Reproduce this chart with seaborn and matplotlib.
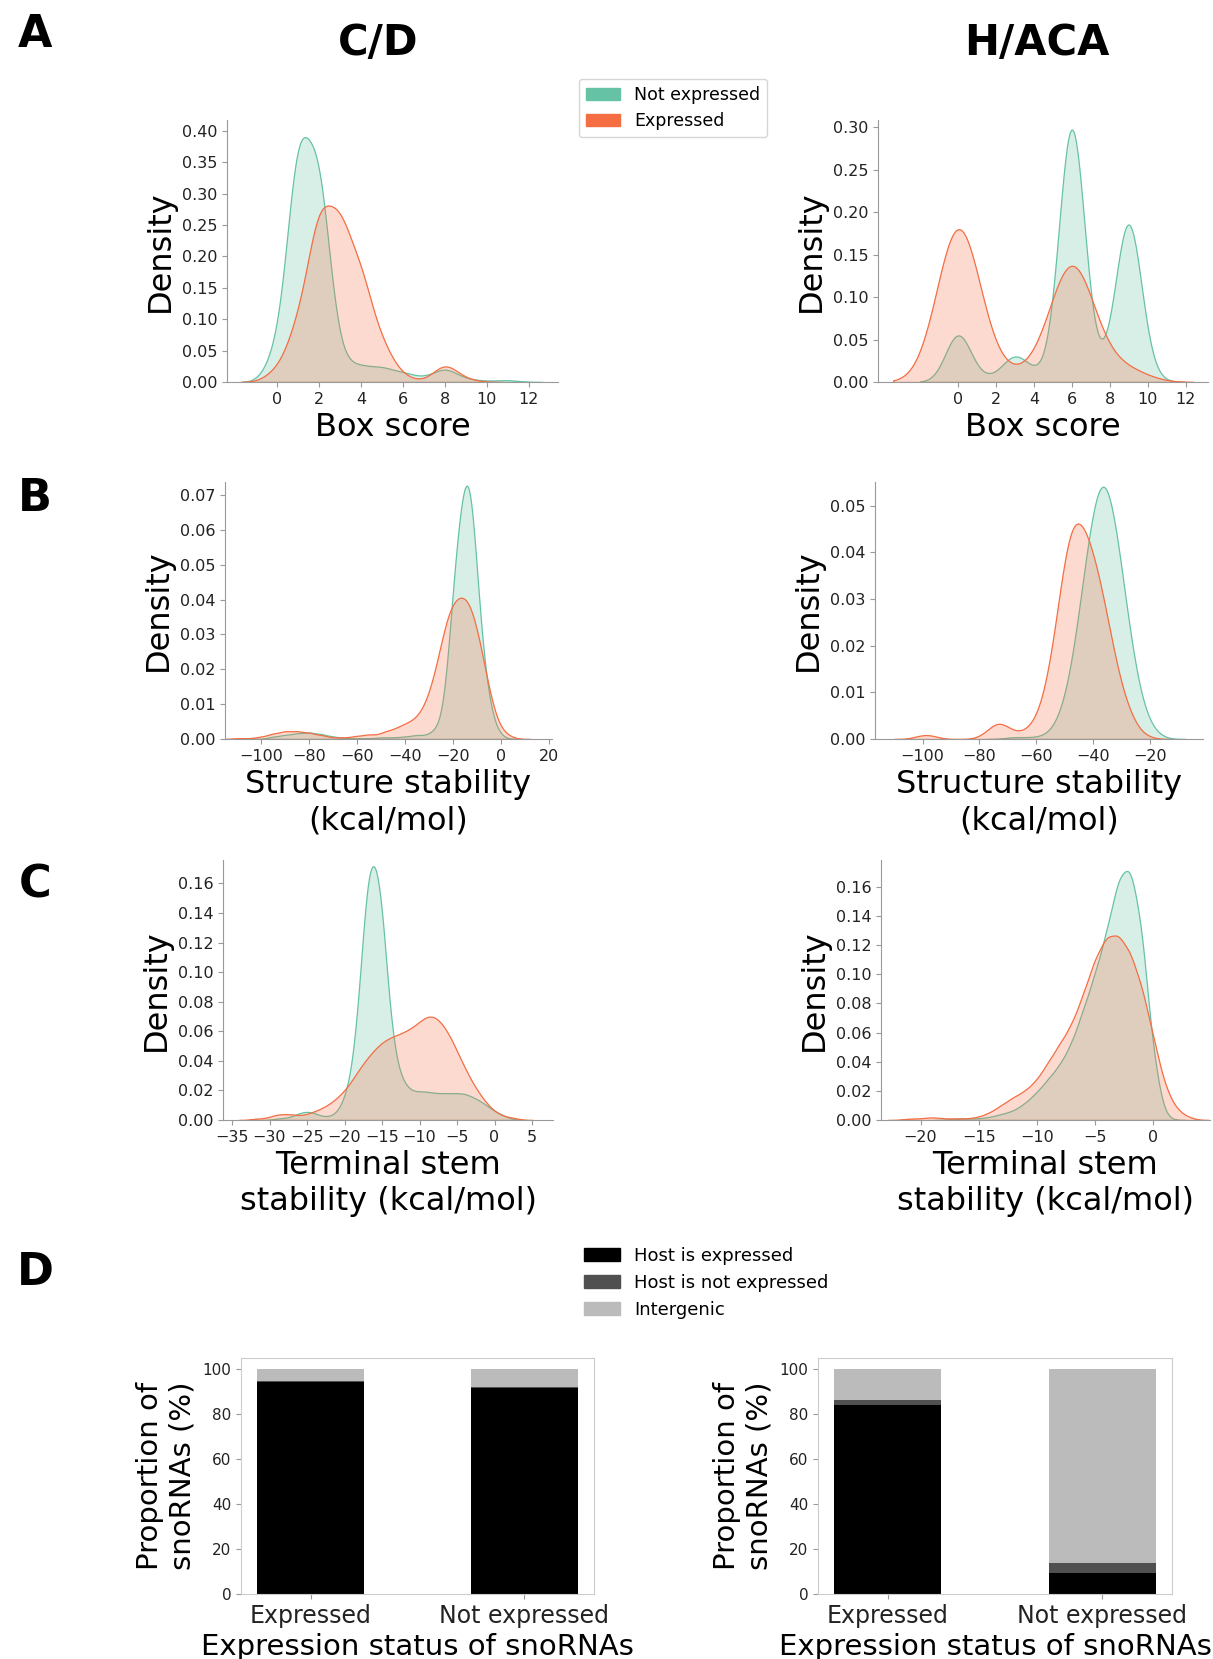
import numpy as np
import seaborn as sns
import matplotlib.pyplot as plt
from matplotlib.patches import Patch
from matplotlib.ticker import MultipleLocator, FormatStrFormatter

TEAL = '#66c2a5'
ORANGE = '#f46d43'
SPINE = '#999999'

# ---------------- A: box score (integer score -> number of snoRNAs) ----------------
box_scores = [0, 1, 2, 3, 4, 5, 6, 7, 8, 9, 10, 11]
cd_box_not = [30, 240, 215, 20, 15, 14, 9, 4, 14, 3, 1, 2]
cd_box_expr = [4, 20, 60, 56, 38, 13, 2, 0, 7, 1, 0, 0]
haca_box_not = [18, 1, 1, 9, 2, 2, 98, 2, 4, 60, 2, 0]
haca_box_expr = [96, 4, 2, 2, 2, 6, 66, 6, 3, 6, 0, 0]

# ---------------- B: structure stability (kcal/mol), binned counts ----------------
cd_struct_not_vals = [-95, -90, -85, -80, -75, -70, -65, -60, -55, -50, -45, -40, -35,
                      -30, -27.5, -25, -22.5, -20, -17.5, -15, -12.5, -10, -7.5, -5, -2.5, 0]
cd_struct_not = [3, 5, 7, 8, 6, 3, 1, 1, 1, 2, 2, 3, 5,
                 4, 5, 8, 28, 100, 130, 165, 175, 95, 50, 22, 7, 2]
cd_struct_expr_vals = [-110, -105, -100, -95, -90, -85, -80, -75, -70, -65, -60, -55,
                       -50, -47.5, -45, -42.5, -40, -37.5, -35, -32.5, -30, -27.5, -25, -22.5,
                       -20, -17.5, -15, -12.5, -10, -7.5, -5, -2.5, 0, 2.5, 5]
cd_struct_expr = [1, 1, 3, 7, 10, 10, 8, 5, 2, 2, 4, 6,
                  5, 5, 6, 8, 10, 11, 14, 19, 28, 42, 60, 78,
                  88, 90, 92, 85, 72, 52, 32, 15, 6, 3, 1]

haca_struct_not_vals = [-70, -67.5, -65, -62.5, -60, -57.5, -55, -52.5, -50, -47.5, -45, -42.5,
                        -40, -37.5, -35, -32.5, -30, -27.5, -25, -22.5, -20, -17.5, -15]
haca_struct_not = [1, 1, 1, 1, 1, 2, 4, 10, 21, 39, 66, 96,
                   123, 139, 137, 118, 90, 60, 35, 18, 8, 3, 1]
haca_struct_expr_vals = [-102.5, -100, -97.5, -95, -80, -77.5, -75, -72.5, -70, -67.5, -65,
                         -62.5, -60, -57.5, -55, -52.5, -50, -47.5, -45, -42.5, -40, -37.5,
                         -35, -32.5, -30, -27.5, -25, -22.5, -20]
haca_struct_expr = [1, 2, 2, 1, 1, 3, 7, 8, 5, 3, 3,
                    5, 9, 18, 33, 55, 80, 95, 95, 90, 80, 68,
                    52, 36, 22, 13, 6, 2, 1]

# ---------------- C: terminal stem stability (kcal/mol), binned counts ----------------
cd_stem_not_vals = list(range(-29, 3))
cd_stem_not = [1, 1, 2, 4, 5, 4, 2, 2, 4, 12, 28, 72, 140, 150, 125, 60,
               30, 20, 16, 16, 16, 15, 15, 15, 15, 15, 13, 11, 8, 5, 3, 1]
cd_stem_expr_vals = list(range(-33, 4))
cd_stem_expr = [0, 1, 1, 2, 4, 4, 4, 3, 4, 6, 8, 11, 15, 20, 27, 35, 42, 48, 53,
                56, 58, 60, 63, 67, 71, 71, 66, 58, 47, 36, 26, 18, 11, 6, 3, 2, 1]

haca_stem_not_vals = list(range(-17, 2))
haca_stem_not = [1, 1, 1, 2, 4, 6, 11, 18, 27, 36, 50, 72, 95, 122, 158, 168, 130, 42, 2]
haca_stem_expr_vals = list(range(-21, 4))
haca_stem_expr = [1, 1, 2, 1, 1, 1, 2, 5, 10, 15, 19, 26, 38, 50, 62, 82, 105, 120,
                  121, 110, 88, 55, 22, 7, 2]

# kernel bandwidths (not expressed, expressed)
bw_cd_box, bw_haca_box = (0.55, 0.58), (0.67, 1.14)
bw_struct, bw_cd_stem, bw_haca_stem = (2.5, 2.5), (0.7, 0.7), (0.6, 0.6)

# ---------------- D: host gene status (%) ----------------
status = ['Expressed', 'Not expressed']
host_labels = ['Host is expressed', 'Host is not expressed', 'Intergenic']
host_colors = ['#000000', '#505050', '#bbbbbb']
cd_host_expr = [94.3, 91.7]
cd_host_not = [0.3, 0.2]
cd_intergenic = [5.4, 8.1]
haca_host_expr = [84.3, 9.3]
haca_host_not = [1.8, 4.5]
haca_intergenic = [13.9, 86.2]

W, H = 1213, 1659
fig = plt.figure(figsize=(W / 100, H / 100), dpi=100)


def box(x0, y0, x1, y1):
    return [x0 / W, 1 - y1 / H, (x1 - x0) / W, (y1 - y0) / H]


def kde_panel(rect, series, bws, xlabel, xlim, ylim, ystep, xticks=None):
    ax = fig.add_axes(rect)
    for (vals, cnts), bw, color in zip(series, bws, [TEAL, ORANGE]):
        obs = np.repeat(np.array(vals, dtype=float), cnts)
        sns.kdeplot(x=obs, ax=ax, fill=True, color=color, alpha=0.25, linewidth=0.9,
                    bw_method=bw / obs.std(ddof=1), gridsize=400)
    ax.set_xlim(xlim[0], xlim[1])
    ax.set_ylim(*ylim)
    if xticks is not None:
        ax.set_xticks(xticks)
    else:
        ax.xaxis.set_major_locator(MultipleLocator(xlim[2]))
    ax.yaxis.set_major_locator(MultipleLocator(ystep))
    ax.yaxis.set_major_formatter(FormatStrFormatter('%.2f'))
    ax.set_ylabel('Density', fontsize=23)
    ax.set_xlabel(xlabel, fontsize=23)
    ax.tick_params(labelsize=11.5, color=SPINE, labelcolor='#222222')
    sns.despine(ax=ax)
    for s in ['left', 'bottom']:
        ax.spines[s].set_color(SPINE)
    return ax


# row A
kde_panel(box(227, 120, 558, 382), [(box_scores, cd_box_not), (box_scores, cd_box_expr)],
          bw_cd_box, 'Box score', (-2.38, 13.39), (0, 0.417), 0.05, list(range(0, 13, 2)))
kde_panel(box(878, 120, 1208, 382), [(box_scores, haca_box_not), (box_scores, haca_box_expr)],
          bw_haca_box, 'Box score', (-4.22, 13.18), (0, 0.3086), 0.05, list(range(0, 13, 2)))
# row B
kde_panel(box(225, 482, 552, 739),
          [(cd_struct_not_vals, cd_struct_not), (cd_struct_expr_vals, cd_struct_expr)],
          bw_struct, 'Structure stability\n(kcal/mol)', (-115.2, 21.4, 20), (0, 0.0737), 0.01)
kde_panel(box(875, 482, 1203, 739),
          [(haca_struct_not_vals, haca_struct_not), (haca_struct_expr_vals, haca_struct_expr)],
          bw_struct, 'Structure stability\n(kcal/mol)', (-116.7, -1.4, 20), (0, 0.0551), 0.01)
# row C
kde_panel(box(223, 860, 553, 1120),
          [(cd_stem_not_vals, cd_stem_not), (cd_stem_expr_vals, cd_stem_expr)],
          bw_cd_stem, 'Terminal stem\nstability (kcal/mol)', (-36.2, 7.8, 5), (0, 0.1758), 0.02)
kde_panel(box(881, 860, 1210, 1120),
          [(haca_stem_not_vals, haca_stem_not), (haca_stem_expr_vals, haca_stem_expr)],
          bw_haca_stem, 'Terminal stem\nstability (kcal/mol)', (-23.4, 4.9, 5), (0, 0.1783), 0.02)


# row D: stacked bars drawn from the top down
def bar_panel(rect, host_expr, host_not, intergenic):
    ax = fig.add_axes(rect)
    layers = [np.add(np.add(host_expr, host_not), intergenic),
              np.add(host_expr, host_not),
              np.array(host_expr)]
    for heights, color in zip(layers, host_colors[::-1]):
        sns.barplot(x=status, y=heights, color=color, width=0.5, saturation=1,
                    linewidth=0, ax=ax)
    ax.set_xlim(-0.325, 1.325)
    ax.set_ylim(0, 105)
    ax.yaxis.set_major_locator(MultipleLocator(20))
    ax.set_xlabel('Expression status of snoRNAs', fontsize=21)
    ax.set_ylabel('Proportion of\nsnoRNAs (%)', fontsize=21)
    ax.tick_params(axis='x', labelsize=17)
    ax.tick_params(axis='y', labelsize=11)
    ax.tick_params(color=SPINE, labelcolor='#222222')
    for s in ax.spines.values():
        s.set_color('#cccccc')
    return ax


bar_panel(box(241, 1358, 594, 1594), cd_host_expr, cd_host_not, cd_intergenic)
bar_panel(box(818, 1358, 1172, 1594), haca_host_expr, haca_host_not, haca_intergenic)

# legends
fig.legend(handles=[Patch(color=TEAL, label='Not expressed'),
                    Patch(color=ORANGE, label='Expressed')],
           loc='center', bbox_to_anchor=(673 / W, 1 - 108 / H), fontsize=12.5)
fig.legend(handles=[Patch(color=c, label=l) for c, l in zip(host_colors, host_labels)],
           loc='center', bbox_to_anchor=(706 / W, 1 - 1283 / H), fontsize=13, frameon=False)

# titles and panel letters
fig.text(378 / W, 1 - 55 / H, 'C/D', fontsize=30, fontweight='bold', ha='center', va='baseline')
fig.text(1037 / W, 1 - 55 / H, 'H/ACA', fontsize=30, fontweight='bold', ha='center', va='baseline')
for letter, y in zip('ABCD', [47, 511, 898, 1285]):
    fig.text(35 / W, 1 - y / H, letter, fontsize=32, fontweight='bold', ha='center', va='baseline')

fig.savefig('out.png', dpi=100)
